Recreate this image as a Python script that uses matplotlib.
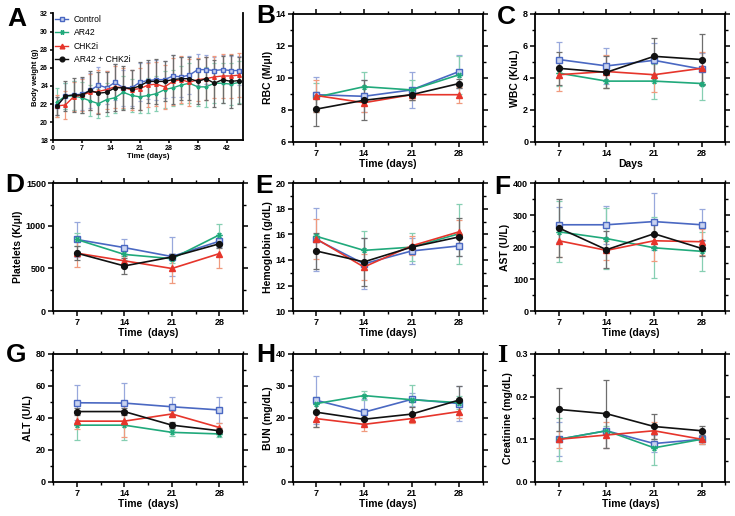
import matplotlib
matplotlib.use("Agg")
import matplotlib.pyplot as plt
from matplotlib.ticker import MultipleLocator, FormatStrFormatter

plt.rcParams.update({
    "font.family": ["Liberation Sans", "DejaVu Sans"],
    "font.weight": "bold",
    "axes.labelweight": "bold",
    "axes.linewidth": 1.3,
    "xtick.major.width": 1.1, "ytick.major.width": 1.1,
    "xtick.minor.width": 1.0, "ytick.minor.width": 1.0,
    "xtick.major.size": 3.5, "ytick.major.size": 3.5,
    "xtick.minor.size": 2.5, "ytick.minor.size": 2.5,
})

GROUPS = ["Control", "AR42", "CHK2i", "AR42 + CHK2i"]
DAYS = [7, 14, 21, 28]

# body weight (panel A)
BW_DAYS = [1, 3, 5, 7, 9, 11, 13, 15, 17, 19, 21, 23, 25, 27, 29, 31, 33, 35, 37, 39, 41, 43, 45]
BW_MEAN = [
    [21.8, 22.9, 23.0, 23.1, 23.5, 24.1, 23.8, 24.4, 23.8, 23.8, 24.4, 24.6, 24.7, 24.7, 25.1, 25.0, 25.2, 25.8, 25.8, 25.7, 25.8, 25.7, 25.7],
    [22.2, 22.9, 22.9, 22.7, 22.35, 22.05, 22.5, 22.7, 23.3, 22.95, 22.8, 22.95, 23.15, 23.6, 23.8, 24.1, 24.3, 23.9, 23.9, 24.3, 24.3, 24.2, 24.4],
    [21.8, 21.9, 22.8, 23.0, 23.3, 23.4, 23.6, 23.9, 23.8, 23.6, 23.7, 24.1, 24.2, 23.9, 24.5, 24.7, 24.4, 24.7, 24.8, 25.0, 25.1, 25.1, 25.2],
    [21.8, 22.9, 23.0, 23.0, 23.5, 23.2, 23.3, 23.8, 23.8, 23.7, 24.0, 24.5, 24.5, 24.5, 24.7, 24.8, 24.8, 24.5, 24.8, 24.3, 24.7, 24.5, 24.6],
]
BW_ERR = [
    [1.0, 1.4, 1.6, 1.8, 1.9, 2.0, 1.8, 2.0, 2.0, 2.0, 2.1, 2.0, 2.2, 2.0, 2.3, 2.2, 2.1, 1.7, 1.6, 1.5, 1.6, 1.6, 1.6],
    [1.6, 1.4, 1.6, 1.7, 1.7, 1.6, 1.8, 1.7, 1.8, 1.8, 1.8, 1.9, 1.9, 2.0, 2.0, 2.1, 2.2, 2.1, 2.2, 2.2, 2.2, 2.3, 2.3],
    [1.2, 1.5, 1.6, 1.8, 2.0, 2.4, 2.1, 2.3, 2.2, 2.2, 2.3, 2.4, 2.4, 2.4, 2.6, 2.6, 2.6, 2.4, 2.4, 2.3, 2.4, 2.4, 2.4],
    [1.0, 1.7, 1.9, 2.0, 2.2, 2.3, 2.2, 2.6, 2.4, 2.1, 2.6, 2.4, 2.5, 2.2, 2.7, 2.4, 2.4, 2.5, 2.4, 2.6, 2.6, 2.9, 2.6],
]

RBC_MEAN = [[8.95, 8.85, 9.25, 10.4], [8.8, 9.45, 9.25, 10.2], [8.9, 8.45, 8.95, 8.95], [8.05, 8.6, 8.95, 9.65]]
RBC_ERR = [[1.1, 1.0, 1.15, 1.05], [0.9, 0.9, 0.6, 1.2], [1.0, 0.6, 0.3, 0.5], [1.05, 1.25, 0.3, 0.3]]

WBC_MEAN = [[5.15, 4.75, 5.1, 4.55], [4.3, 3.8, 3.8, 3.65], [4.2, 4.4, 4.2, 4.6], [4.6, 4.35, 5.35, 5.15]]
WBC_ERR = [[1.1, 1.1, 1.1, 1.0], [0.8, 0.45, 1.1, 1.05], [1.0, 1.05, 1.05, 1.0], [1.05, 1.0, 1.15, 1.6]]

PLT_MEAN = [[840, 745, 640, 820], [840, 665, 615, 895], [680, 590, 500, 675], [680, 530, 635, 790]]
PLT_ERR = [[200, 100, 230, 70], [80, 60, 50, 125], [165, 60, 165, 165], [80, 90, 40, 50]]

HGB_MEAN = [[15.6, 13.7, 14.7, 15.1], [15.85, 14.75, 15.0, 16.05], [15.65, 13.45, 15.1, 16.2], [14.7, 13.85, 15.0, 15.8]]
HGB_ERR = [[2.45, 2.0, 1.0, 0.8], [0.2, 1.5, 1.1, 2.35], [1.55, 1.0, 0.75, 0.9], [1.4, 1.85, 0.2, 1.5]]

AST_MEAN = [[270, 270, 280, 270], [248, 227, 198, 187], [220, 190, 220, 217], [260, 192, 242, 196]]
AST_ERR = [[55, 60, 90, 50], [95, 95, 95, 60], [50, 30, 62, 40], [92, 58, 40, 25]]

ALT_MEAN = [[49.5, 49.3, 47, 45], [35.5, 35.5, 31, 30], [38, 38, 42.5, 34], [44, 44, 35.5, 32]]
ALT_ERR = [[11, 12.5, 6, 8], [9, 9, 2, 2], [5, 10, 2, 3], [2, 2, 2, 1.5]]

BUN_MEAN = [[25.5, 21.8, 25.8, 24.5], [24.5, 27, 25.7, 24.8], [19.8, 18, 19.8, 22], [21.8, 19.6, 21.2, 25.6]]
BUN_ERR = [[7.5, 4, 2, 5.5], [2, 1.5, 4.5, 2], [2.5, 2, 1.5, 2], [4.5, 1.5, 2.3, 4.5]]

CRE_MEAN = [[0.10, 0.12, 0.09, 0.10], [0.10, 0.12, 0.08, 0.10], [0.10, 0.11, 0.12, 0.10], [0.17, 0.16, 0.13, 0.12]]
CRE_ERR = [[0.04, 0.04, 0.02, 0.01], [0.05, 0.01, 0.04, 0.01], [0.02, 0.03, 0.02, 0.01], [0.05, 0.08, 0.03, 0.01]]

COLORS = ["#4a68c2", "#20a97b", "#e6352b", "#111111"]
ERR_COLORS = ["#98a8dc", "#86cfb2", "#f09a7e", "#6e6e6e"]
MARKERS = ["s", (6, 2, 90), "^", "o"]


def draw_series(ax, x, means, errs, ms=4.2, lw=1.2, cap=2.2):
    for i in range(4):
        ax.errorbar(x, means[i], yerr=errs[i], fmt="none", ecolor=ERR_COLORS[i],
                    elinewidth=0.9, capsize=cap, capthick=0.9, zorder=2 + i)
    for i in range(4):
        face = "#c9d3f0" if i == 0 else COLORS[i]
        ax.plot(x, means[i], color=COLORS[i], lw=lw, marker=MARKERS[i],
                markersize=ms, markerfacecolor=face, markeredgecolor=COLORS[i],
                markeredgewidth=1.0, label=GROUPS[i], zorder=6 + i)


def small_panel(ax, means, errs, ylim, major, minor, ylabel, xlabel="Time (days)"):
    draw_series(ax, DAYS, means, errs)
    ax.set_xlim(3.5, 31.5)
    ax.set_ylim(*ylim)
    ax.set_xticks(DAYS)
    ax.xaxis.set_minor_locator(MultipleLocator(3.5))
    ax.yaxis.set_major_locator(MultipleLocator(major))
    ax.yaxis.set_minor_locator(MultipleLocator(minor))
    ax.tick_params(which="both", direction="out", top=True, right=True,
                   labeltop=False, labelright=False, labelsize=6.5, pad=1.5)
    ax.set_ylabel(ylabel, fontsize=7.5, labelpad=2)
    ax.set_xlabel(xlabel, fontsize=7.5, labelpad=1)


fig = plt.figure(figsize=(7.35, 5.16), dpi=100)

lefts = [0.398, 0.728]
W, H = 0.259, 0.248
bottoms = [0.725, 0.397, 0.066]

# Panel A
axA = fig.add_axes([0.072, 0.728, W, 0.246])
draw_series(axA, BW_DAYS, BW_MEAN, BW_ERR, ms=2.6, lw=1.0, cap=1.4)
axA.set_xlim(0, 46)
axA.set_ylim(18, 32)
axA.set_xticks([0, 7, 14, 21, 28, 35, 42])
axA.yaxis.set_major_locator(MultipleLocator(2))
axA.spines["top"].set_visible(False)
axA.tick_params(direction="out", labelsize=5, length=2.5, pad=1)
axA.set_xlabel("Time (days)", fontsize=5.5, labelpad=0.5)
axA.set_ylabel("Body weight (g)", fontsize=5.5, labelpad=1)
axA.legend(loc="upper left", frameon=False, prop={"size": 6.2, "weight": "normal"},
           handlelength=1.6, borderaxespad=0.0, borderpad=0.2, labelspacing=0.5,
           handletextpad=0.6, markerscale=1.3)

panels = [
    ([lefts[0], bottoms[0]], RBC_MEAN, RBC_ERR, (6, 14), 2, 1, "RBC (M/μl)", "Time (days)", "B"),
    ([lefts[1], bottoms[0]], WBC_MEAN, WBC_ERR, (0, 8), 2, 1, "WBC (K/uL)", "Days", "C"),
    ([0.072, bottoms[1]], PLT_MEAN, PLT_ERR, (0, 1500), 500, 250, "Platelets (K/μl)", "Time  (days)", "D"),
    ([lefts[0], bottoms[1]], HGB_MEAN, HGB_ERR, (10, 20), 2, 1, "Hemoglobin (g/dL)", "Time (days)", "E"),
    ([lefts[1], bottoms[1]], AST_MEAN, AST_ERR, (0, 400), 100, 50, "AST (U/L)", "Time (days)", "F"),
    ([0.072, bottoms[2]], ALT_MEAN, ALT_ERR, (0, 80), 20, 10, "ALT (U/L)", "Time  (days)", "G"),
    ([lefts[0], bottoms[2]], BUN_MEAN, BUN_ERR, (0, 40), 10, 5, "BUN (mg/dL)", "Time (days)", "H"),
    ([lefts[1], bottoms[2]], CRE_MEAN, CRE_ERR, (0, 0.3), 0.1, 0.05, "Creatinine (mg/dL)", "Time (days)", "I"),
]
for (pos, m, e, ylim, major, minor, ylab, xlab, letter) in panels:
    ax = fig.add_axes([pos[0], pos[1], W, H])
    small_panel(ax, m, e, ylim, major, minor, ylab, xlab)
    if letter == "I":
        ax.yaxis.set_major_formatter(FormatStrFormatter("%.1f"))

# panel letters, positions in pixels (x centre, y centre from top)
letter_px = {
    "A": (17, 19), "B": (266, 16), "C": (506, 17),
    "D": (15, 185), "E": (264, 186), "F": (502, 187),
    "G": (16, 355), "H": (266, 355), "I": (502, 356),
}
for k, (x, y) in letter_px.items():
    fam = ["Liberation Serif"] if k == "I" else ["Liberation Sans"]
    fig.text(x / 735, 1 - y / 516, k, fontsize=19, fontweight="bold",
             ha="center", va="center", family=fam)

fig.savefig("out.png", dpi=100)
